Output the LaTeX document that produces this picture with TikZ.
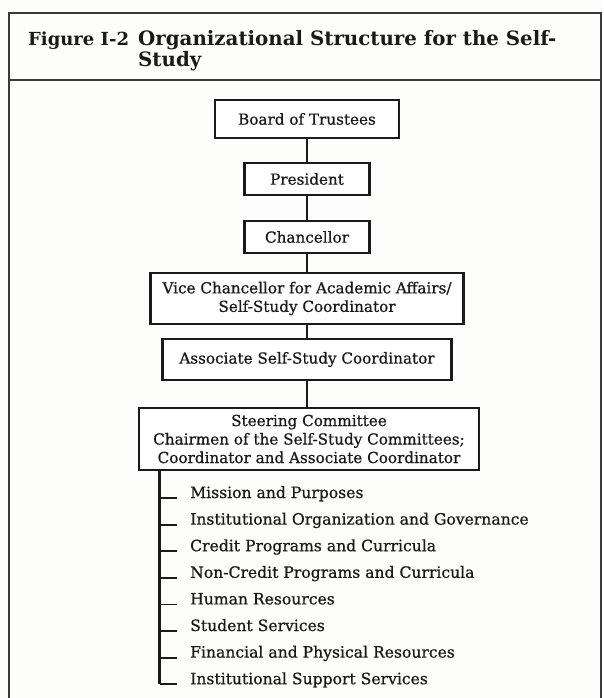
\documentclass[tikz,border=0pt]{standalone}
\usepackage{fontspec}
\setmainfont{DejaVu Serif}
\newfontfamily\bkfont{DejaVu Serif}[FakeBold=0.7]
\usepackage{tikz}
\usetikzlibrary{calc,positioning}
\definecolor{ink}{HTML}{1A1A1A}
\definecolor{rimc}{HTML}{3A3A3A}
\definecolor{paper}{HTML}{FDFDFB}
\tikzset{
  box/.style={draw=ink, line width=2.6pt, fill=white, align=center, text=ink, font=\bkfont\fontsize{15.2}{18.5}\selectfont, inner sep=0pt},
  link/.style={draw=ink, line width=2.6pt},
  tick/.style={draw=ink, line width=1.8pt},
  rim/.style={draw=rimc, line width=2pt},
  ttl/.style={text=ink, font=\bfseries\fontsize{19.8}{21}\selectfont, inner sep=0pt},
  item/.style={text=ink, font=\bkfont\fontsize{15.6}{16}\selectfont, inner sep=0pt},
}
\begin{document}
\begin{tikzpicture}[x=1pt,y=-1pt]
  \useasboundingbox[fill=paper] (0,0) rectangle (603,698);
  % frame and title
  \draw[rim] (9,698) -- (9,13) -- (601,13) -- (601,698);
  \draw[rim] (9,80) -- (601,80);
  \node[ttl,font=\bfseries\fontsize{18}{21}\selectfont,anchor=base west] (fig) at (28,46) {Figure I-2};
  \node[ttl,anchor=base west] (ttla) at (138,46) {Organizational Structure for the Self-};
  \node[ttl,anchor=base west] (ttlb) at (138,67) {Study};

  % chain of offices
  \node[box,minimum width=184pt,minimum height=38pt] (bot) at (307,119) {Board of Trustees};
  \node[box,minimum width=125pt,minimum height=32pt] (pre) at (307,179) {President};
  \node[box,minimum width=125pt,minimum height=32pt] (cha) at (307,237) {Chancellor};
  \node[box,minimum width=313pt,minimum height=51pt] (vca) at (307,298.5) {Vice Chancellor for Academic Affairs/\\Self-Study Coordinator};
  \node[box,minimum width=289pt,minimum height=41pt] (asc) at (307,359.5) {Associate Self-Study Coordinator};
  \node[box,minimum width=340pt,minimum height=62pt] (stc) at (309,439) {Steering Committee\\Chairmen of the Self-Study Committees;\\Coordinator and Associate Coordinator};

  \draw[link] (bot) -- (pre);
  \draw[link] (pre) -- (cha);
  \draw[link] (cha) -- (vca);
  \draw[link] (vca) -- (asc);
  \draw[link] (asc) -- (stc.north -| asc);

  % committees
  \coordinate (stem) at ($(stc.south west)+(22,0)$);
  \foreach \t [count=\i] in {Mission and Purposes,Institutional Organization and Governance,Credit Programs and Curricula,Non-Credit Programs and Curricula,Human Resources,Student Services,Financial and Physical Resources,Institutional Support Services}{
    \node[item,anchor=base west] (c\i) at (190,{498+(\i-1)*26.6}) {\t};
    \draw[tick] (stem |- c\i.base) -- ++(17,0);
  }
  \draw[link] (stem) -- (stem |- c8.base);
\end{tikzpicture}
\end{document}
